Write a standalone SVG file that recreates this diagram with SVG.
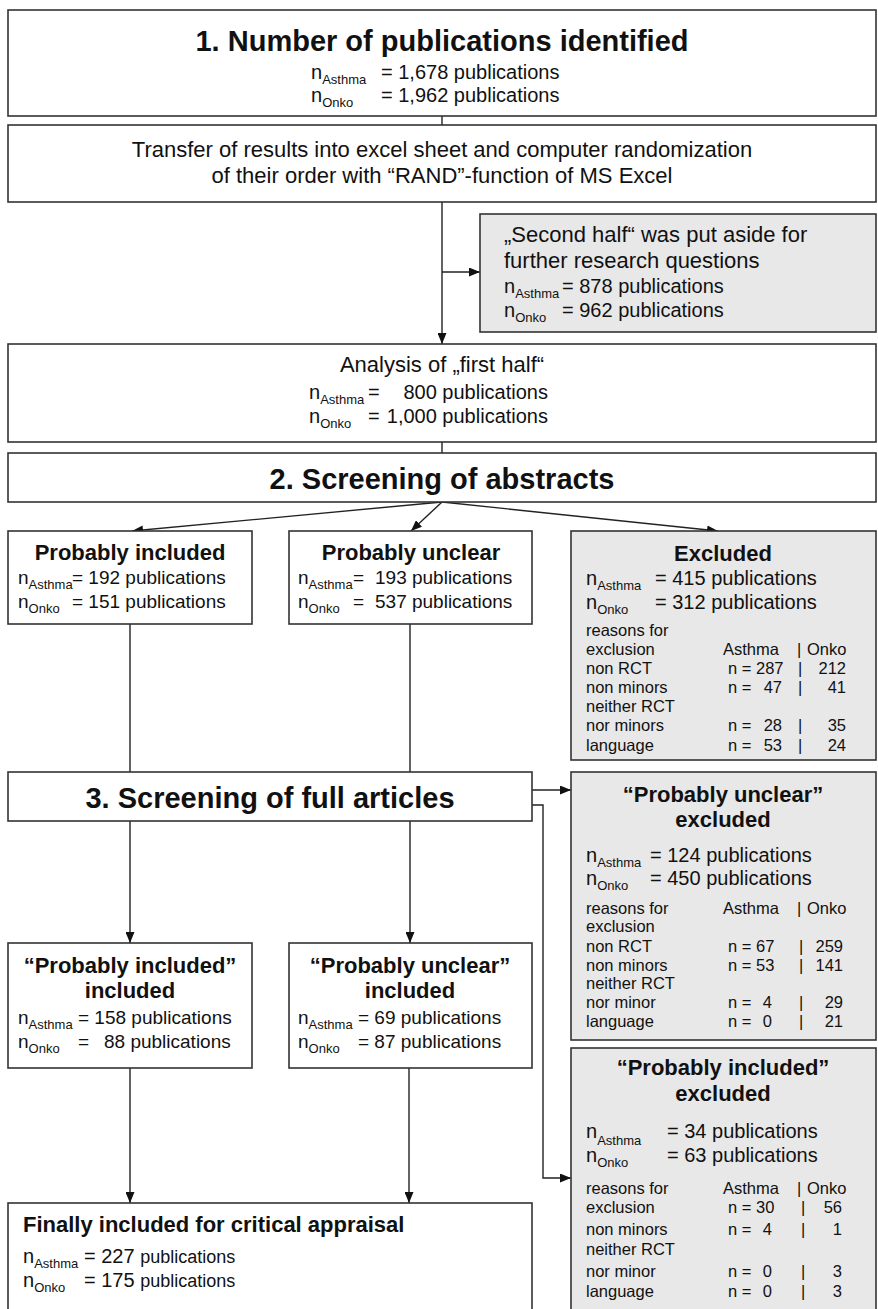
<svg xmlns="http://www.w3.org/2000/svg" width="878" height="1309" viewBox="0 0 878 1309">
<style>
text{font-family:"Liberation Sans",Arial,sans-serif;fill:#111;}
.box{fill:#fff;stroke:#333;stroke-width:1.6;}
.grey{fill:#e8e8e8;stroke:#333;stroke-width:1.6;}
.h29{font-size:29px;font-weight:bold;text-anchor:middle;}
.h22{font-size:22px;font-weight:bold;text-anchor:middle;}
.h22l{font-size:22px;font-weight:bold;}
.t22{font-size:22px;}
.t22m{font-size:22px;text-anchor:middle;}
.t20{font-size:20px;}
.t19{font-size:19px;}
.t17{font-size:16.5px;}
.t17e{font-size:16.5px;text-anchor:end;}
.sub{font-size:13px;}
.con{fill:none;stroke:#222;stroke-width:1.4;}
</style>
<defs>
<marker id="ah" markerUnits="userSpaceOnUse" markerWidth="11" markerHeight="9" refX="11" refY="4.5" orient="auto">
<path d="M0,0 L11,4.5 L0,9 z" fill="#111"/>
</marker>
</defs>

<g id="connectors">
<line class="con" x1="442" y1="116" x2="442" y2="125"/>
<line class="con" x1="442" y1="202" x2="442" y2="344" marker-end="url(#ah)"/>
<line class="con" x1="442" y1="272" x2="480" y2="272" marker-end="url(#ah)"/>
<line class="con" x1="442" y1="442" x2="442" y2="453"/>
<line class="con" x1="442" y1="502" x2="132" y2="531" marker-end="url(#ah)"/>
<line class="con" x1="442" y1="502" x2="411" y2="531" marker-end="url(#ah)"/>
<line class="con" x1="442" y1="502" x2="718" y2="531" marker-end="url(#ah)"/>
<line class="con" x1="130" y1="624" x2="130" y2="772"/>
<line class="con" x1="410" y1="624" x2="410" y2="772"/>
<line class="con" x1="130" y1="821" x2="130" y2="943" marker-end="url(#ah)"/>
<line class="con" x1="410" y1="821" x2="410" y2="943" marker-end="url(#ah)"/>
<line class="con" x1="532" y1="790" x2="571" y2="790" marker-end="url(#ah)"/>
<polyline class="con" points="532,805 543,805 543,1178 571,1178" marker-end="url(#ah)"/>
<line class="con" x1="130" y1="1068" x2="130" y2="1203" marker-end="url(#ah)"/>
<line class="con" x1="409" y1="1068" x2="409" y2="1203" marker-end="url(#ah)"/>
</g>

<g id="identified">
<rect class="box" x="8" y="10" width="868" height="106"/>
<text class="h29" x="442" y="51">1. Number of publications identified</text>
<text class="t20" x="311" y="79">n<tspan class="sub" dy="5">Asthma</tspan></text>
<text class="t20" x="381" y="79">= 1,678 publications</text>
<text class="t20" x="311" y="102">n<tspan class="sub" dy="5">Onko</tspan></text>
<text class="t20" x="381" y="102">= 1,962 publications</text>
</g>

<g id="transfer">
<rect class="box" x="8" y="125" width="868" height="77"/>
<text class="t22m" x="442" y="157">Transfer of results into excel sheet and computer randomization</text>
<text class="t22m" x="442" y="183">of their order with “RAND”-function of MS Excel</text>
</g>

<g id="second-half">
<rect class="grey" x="480" y="214" width="396" height="118"/>
<text class="t22" x="504" y="242">„Second half“ was put aside for</text>
<text class="t22" x="504" y="268">further research questions</text>
<text class="t20" x="504" y="293">n<tspan class="sub" dy="5">Asthma</tspan></text>
<text class="t20" x="562" y="293">= 878 publications</text>
<text class="t20" x="504" y="317">n<tspan class="sub" dy="5">Onko</tspan></text>
<text class="t20" x="562" y="317">= 962 publications</text>
</g>

<g id="first-half">
<rect class="box" x="8" y="344" width="868" height="98"/>
<text class="t22m" x="442" y="372">Analysis of „first half“</text>
<text class="t20" x="309" y="399">n<tspan class="sub" dy="5">Asthma</tspan></text>
<text class="t20" x="368" y="399">=</text>
<text class="t20" x="548" y="399" text-anchor="end">800 publications</text>
<text class="t20" x="309" y="423">n<tspan class="sub" dy="5">Onko</tspan></text>
<text class="t20" x="368" y="423">=</text>
<text class="t20" x="548" y="423" text-anchor="end">1,000 publications</text>
</g>

<g id="screening-abstracts">
<rect class="box" x="8" y="453" width="868" height="49"/>
<text class="h29" x="442" y="489">2. Screening of abstracts</text>
</g>

<g id="probably-included">
<rect class="box" x="8" y="531" width="244" height="93"/>
<text class="h22" x="130" y="560">Probably included</text>
<text class="t19" x="18" y="584">n<tspan class="sub" dy="5">Asthma</tspan></text>
<text class="t19" x="72" y="584">= 192 publications</text>
<text class="t19" x="18" y="608">n<tspan class="sub" dy="5">Onko</tspan></text>
<text class="t19" x="72" y="608">= 151 publications</text>
</g>

<g id="probably-unclear">
<rect class="box" x="289" y="531" width="243" height="93"/>
<text class="h22" x="411" y="560">Probably unclear</text>
<text class="t19" x="298" y="584">n<tspan class="sub" dy="5">Asthma</tspan></text>
<text class="t19" x="353" y="584">=</text>
<text class="t19" x="375" y="584">193 publications</text>
<text class="t19" x="298" y="608">n<tspan class="sub" dy="5">Onko</tspan></text>
<text class="t19" x="353" y="608">=</text>
<text class="t19" x="375" y="608">537 publications</text>
</g>

<g id="excluded">
<rect class="grey" x="571" y="531" width="305" height="229"/>
<text class="h22" x="723" y="561">Excluded</text>
<text class="t20" x="586" y="585">n<tspan class="sub" dy="5">Asthma</tspan></text>
<text class="t20" x="655" y="585">= 415 publications</text>
<text class="t20" x="586" y="609">n<tspan class="sub" dy="5">Onko</tspan></text>
<text class="t20" x="655" y="609">= 312 publications</text>
<text class="t17" x="586" y="636">reasons for</text>
<text class="t17" x="586" y="655">exclusion</text>
<text class="t17" x="723" y="655">Asthma</text>
<text class="t17" x="797" y="655">|</text>
<text class="t17" x="807" y="655">Onko</text>
<text class="t17" x="586" y="674">non RCT</text>
<text class="t17" x="728" y="674">n = 287</text>
<text class="t17" x="798" y="674">|</text>
<text class="t17e" x="846" y="674">212</text>
<text class="t17" x="586" y="693">non minors</text>
<text class="t17" x="728" y="693">n =</text>
<text class="t17e" x="782" y="693">47</text>
<text class="t17" x="798" y="693">|</text>
<text class="t17e" x="846" y="693">41</text>
<text class="t17" x="586" y="712">neither RCT</text>
<text class="t17" x="586" y="731">nor minors</text>
<text class="t17" x="728" y="731">n =</text>
<text class="t17e" x="782" y="731">28</text>
<text class="t17" x="798" y="731">|</text>
<text class="t17e" x="846" y="731">35</text>
<text class="t17" x="586" y="751">language</text>
<text class="t17" x="728" y="751">n =</text>
<text class="t17e" x="782" y="751">53</text>
<text class="t17" x="798" y="751">|</text>
<text class="t17e" x="846" y="751">24</text>
</g>

<g id="screening-full">
<rect class="box" x="8" y="772" width="524" height="49"/>
<text class="h29" x="270" y="808">3. Screening of full articles</text>
</g>

<g id="unclear-excluded">
<rect class="grey" x="571" y="772" width="305" height="268"/>
<text class="h22" x="723" y="802">“Probably unclear”</text>
<text class="h22" x="723" y="827">excluded</text>
<text class="t20" x="586" y="862">n<tspan class="sub" dy="5">Asthma</tspan></text>
<text class="t20" x="650" y="862">= 124 publications</text>
<text class="t20" x="586" y="885">n<tspan class="sub" dy="5">Onko</tspan></text>
<text class="t20" x="650" y="885">= 450 publications</text>
<text class="t17" x="586" y="914">reasons for</text>
<text class="t17" x="723" y="914">Asthma</text>
<text class="t17" x="797" y="914">|</text>
<text class="t17" x="807" y="914">Onko</text>
<text class="t17" x="586" y="932">exclusion</text>
<text class="t17" x="586" y="952">non RCT</text>
<text class="t17" x="728" y="952">n = 67</text>
<text class="t17" x="799" y="952">|</text>
<text class="t17e" x="843" y="952">259</text>
<text class="t17" x="586" y="971">non minors</text>
<text class="t17" x="728" y="971">n = 53</text>
<text class="t17" x="799" y="971">|</text>
<text class="t17e" x="843" y="971">141</text>
<text class="t17" x="586" y="989">neither RCT</text>
<text class="t17" x="586" y="1008">nor minor</text>
<text class="t17" x="728" y="1008">n =</text>
<text class="t17e" x="772" y="1008">4</text>
<text class="t17" x="799" y="1008">|</text>
<text class="t17e" x="843" y="1008">29</text>
<text class="t17" x="586" y="1027">language</text>
<text class="t17" x="728" y="1027">n =</text>
<text class="t17e" x="772" y="1027">0</text>
<text class="t17" x="799" y="1027">|</text>
<text class="t17e" x="843" y="1027">21</text>
</g>

<g id="included-excluded">
<rect class="grey" x="571" y="1048" width="305" height="275"/>
<text class="h22" x="723" y="1075">“Probably included”</text>
<text class="h22" x="723" y="1101">excluded</text>
<text class="t20" x="586" y="1138">n<tspan class="sub" dy="7">Asthma</tspan></text>
<text class="t20" x="667" y="1138">= 34 publications</text>
<text class="t20" x="586" y="1162">n<tspan class="sub" dy="5">Onko</tspan></text>
<text class="t20" x="667" y="1162">= 63 publications</text>
<text class="t17" x="586" y="1194">reasons for</text>
<text class="t17" x="723" y="1194">Asthma</text>
<text class="t17" x="797" y="1194">|</text>
<text class="t17" x="807" y="1194">Onko</text>
<text class="t17" x="586" y="1213">exclusion</text>
<text class="t17" x="728" y="1213">n = 30</text>
<text class="t17" x="801" y="1213">|</text>
<text class="t17e" x="842" y="1213">56</text>
<text class="t17" x="586" y="1235">non minors</text>
<text class="t17" x="728" y="1235">n =</text>
<text class="t17e" x="772" y="1235">4</text>
<text class="t17" x="801" y="1235">|</text>
<text class="t17e" x="842" y="1235">1</text>
<text class="t17" x="586" y="1255">neither RCT</text>
<text class="t17" x="586" y="1277">nor minor</text>
<text class="t17" x="728" y="1277">n =</text>
<text class="t17e" x="772" y="1277">0</text>
<text class="t17" x="801" y="1277">|</text>
<text class="t17e" x="842" y="1277">3</text>
<text class="t17" x="586" y="1297">language</text>
<text class="t17" x="728" y="1297">n =</text>
<text class="t17e" x="772" y="1297">0</text>
<text class="t17" x="801" y="1297">|</text>
<text class="t17e" x="842" y="1297">3</text>
</g>

<g id="included-included">
<rect class="box" x="8" y="943" width="244" height="125"/>
<text class="h22" x="130" y="973">“Probably included”</text>
<text class="h22" x="130" y="998">included</text>
<text class="t19" x="18" y="1024">n<tspan class="sub" dy="5">Asthma</tspan></text>
<text class="t19" x="78" y="1024">= 158 publications</text>
<text class="t19" x="18" y="1048">n<tspan class="sub" dy="5">Onko</tspan></text>
<text class="t19" x="78" y="1048">=</text>
<text class="t19" x="104" y="1048">88 publications</text>
</g>

<g id="unclear-included">
<rect class="box" x="289" y="943" width="243" height="125"/>
<text class="h22" x="410" y="973">“Probably unclear”</text>
<text class="h22" x="410" y="998">included</text>
<text class="t19" x="298" y="1024">n<tspan class="sub" dy="5">Asthma</tspan></text>
<text class="t19" x="358" y="1024">= 69 publications</text>
<text class="t19" x="298" y="1048">n<tspan class="sub" dy="5">Onko</tspan></text>
<text class="t19" x="358" y="1048">= 87 publications</text>
</g>

<g id="finally-included">
<rect class="box" x="8" y="1203" width="524" height="120"/>
<text class="h22l" x="23" y="1232">Finally included for critical appraisal</text>
<text class="t20" x="23" y="1263">n<tspan class="sub" dy="5">Asthma</tspan></text>
<text class="t20" x="84" y="1263">= 227 <tspan font-size="18">publications</tspan></text>
<text class="t20" x="23" y="1287">n<tspan class="sub" dy="5">Onko</tspan></text>
<text class="t20" x="84" y="1287">= 175 <tspan font-size="18">publications</tspan></text>
</g>
</svg>
